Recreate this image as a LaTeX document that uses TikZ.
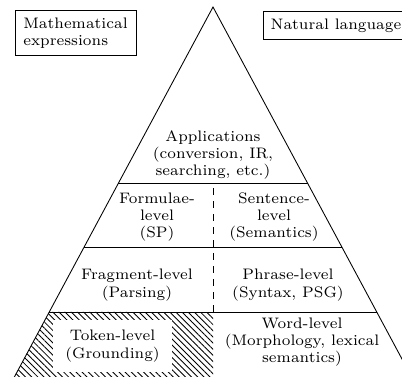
\documentclass[tikz,border=0pt]{standalone}
\usepackage{tikz}
\usetikzlibrary{calc}
\usetikzlibrary{patterns.meta}

\begin{document}
\begin{tikzpicture} [x=0.46pt,y=-0.46pt,
		level/.style={align=center,font=\scriptsize},
		tag/.style={draw=black,fill=white,font=\scriptsize}]
		
		% frame of the picture
		\clip (0,0) rectangle (402,376);
		
		% corners of the pyramid
		\coordinate (top) at (213,7);
		\coordinate (bl) at (2,400);
		\coordinate (br) at (424,400);
		
		% hatched part under the token level
		\fill[pattern={Lines[angle=-45,distance=2pt,line width=0.4pt]}] ($(top)!0.776!(bl)$) -- (213,312) -- (213,400) -- (bl) -- cycle;
		
		% outline
		\draw (bl) -- (top) -- (br);
		
		% layers
		\draw ($(top)!0.448!(bl)$) -- ($(top)!0.448!(br)$); % applications
		\draw ($(top)!0.611!(bl)$) -- ($(top)!0.611!(br)$); % formulae / sentence
		\draw ($(top)!0.776!(bl)$) -- ($(top)!0.776!(br)$); % fragment / phrase
		\draw[dashed] (213,188) -- (213,312); % split math / natural
		
		% Labels for layers
		\draw (213,155) node[level] (apps) {Applications\\(conversion, IR,\\searching, etc.)};
		\draw (157,217) node[level] (formulae) {Formulae-\\level\\(SP)};
		\draw (274,217) node[level] (sentence) {Sentence-\\level\\(Semantics)};
		\draw (137,285) node[level] (fragment) {Fragment-level\\(Parsing)};
		\draw (288,285) node[level] (phrase) {Phrase-level\\(Syntax, PSG)};
		\draw (112.5,346) node[level,fill=white,minimum width=54.7pt,minimum height=23.5pt] (token) {Token-level\\(Grounding)};
		\draw (302,342) node[level] (word) {Word-level\\(Morphology, lexical\\semantics)};
		
		% side tags
		\draw (75.5,33) node[tag,align=left,minimum width=55.7pt,minimum height=18.4pt] (math) {Mathematical\\expressions};
		\draw (263,25.5) node[tag,anchor=west,minimum height=10.6pt] (natural) {Natural language};
		\end{tikzpicture}
\end{document}
